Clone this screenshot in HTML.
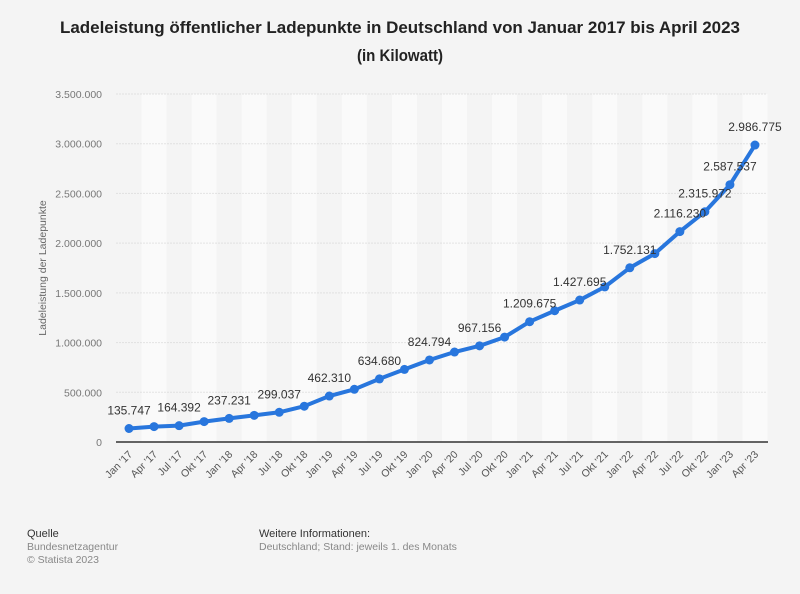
<!DOCTYPE html>
<html><head><meta charset="utf-8"><style>
html,body{margin:0;padding:0;background:#f4f4f4;}
svg{display:block;font-family:"Liberation Sans",Arial,sans-serif;}
</style></head><body>
<svg id="chart" width="800" height="594" viewBox="0 0 800 594">
<rect x="0" y="0" width="800" height="594" fill="#f4f4f4"/>
<text x="400" y="33" text-anchor="middle" font-size="17" font-weight="bold" fill="#222" textLength="680" lengthAdjust="spacingAndGlyphs">Ladeleistung öffentlicher Ladepunkte in Deutschland von Januar 2017 bis April 2023</text>
<text x="400" y="61" text-anchor="middle" font-size="17" font-weight="bold" fill="#222" textLength="86" lengthAdjust="spacingAndGlyphs">(in Kilowatt)</text>
<g id="bands"></g>
<g id="grid"></g>
<g id="yticks"></g>
<g id="xticks"></g>
<line x1="116" y1="442" x2="768" y2="442" stroke="#333" stroke-width="1.5"/>
<text transform="translate(46,268) rotate(-90)" text-anchor="middle" font-size="10.5" fill="#666">Ladeleistung der Ladepunkte</text>
<g id="series"></g>
<g id="labels"></g>
<g>
<text x="27" y="537" font-size="11" fill="#333">Quelle</text>
<text x="27" y="550" font-size="10.5" fill="#888">Bundesnetzagentur</text>
<text x="27" y="563" font-size="10.5" fill="#888">© Statista 2023</text>
</g>
<g>
<text x="259" y="537" font-size="11" fill="#333">Weitere Informationen:</text>
<text x="259" y="550" font-size="10.5" fill="#888">Deutschland; Stand: jeweils 1. des Monats</text>
</g>
</svg>
<script>
const categories = ["Jan '17","Apr '17","Jul '17","Okt '17","Jan '18","Apr '18","Jul '18","Okt '18","Jan '19","Apr '19","Jul '19","Okt '19","Jan '20","Apr '20","Jul '20","Okt '20","Jan '21","Apr '21","Jul '21","Okt '21","Jan '22","Apr '22","Jul '22","Okt '22","Jan '23","Apr '23"];
const values = [135747,155000,164392,205000,237231,268000,299037,360000,462310,530000,634680,730000,824794,905000,967156,1055000,1209675,1320000,1427695,1560000,1752131,1895000,2116230,2315972,2587537,2986775];
const labelled = [true,false,true,false,true,false,true,false,true,false,true,false,true,false,true,false,true,false,true,false,true,false,true,true,true,true];
const yTicks = [0,500000,1000000,1500000,2000000,2500000,3000000,3500000];
const yTickLabels = ["0","500.000","1.000.000","1.500.000","2.000.000","2.500.000","3.000.000","3.500.000"];

const NS="http://www.w3.org/2000/svg";
const X0=116.5, X1=767.5, Y0=442, Y1=94, YMAX=3500000;
const bw=(X1-X0)/categories.length;
const xs=i=>X0+bw*(i+0.5);
const ys=v=>Y0-(v/YMAX)*(Y0-Y1);
function mk(tag,attrs,parent,txt){const e=document.createElementNS(NS,tag);for(const k in attrs)e.setAttribute(k,attrs[k]);if(txt!==undefined)e.textContent=txt;document.getElementById(parent).appendChild(e);return e;}
const fmt=v=>String(v).replace(/\B(?=(\d{3})+(?!\d))/g,".");

categories.forEach((c,i)=>{
  const r=mk('rect',{x:X0+bw*i,y:Y1,width:bw,height:Y0-Y1,fill:i%2?'#fafafa':'#f4f4f4'},'bands');
  
  
  const t=mk('text',{transform:`translate(${xs(i)+4},${Y0+13}) rotate(-45)`,'text-anchor':'end','font-size':'10.5',fill:'#555'},'xticks',c);
  
  
});
yTicks.forEach((v,i)=>{
  if(v>0){const l=mk('line',{x1:X0,x2:X1,y1:ys(v),y2:ys(v),stroke:'#ccc','stroke-dasharray':'1,2'},'grid');
  
  }
  const t=mk('text',{x:102,y:ys(v)+4,'text-anchor':'end','font-size':'10.5',fill:'#777'},'yticks',yTickLabels[i]);
  
  
});
const pts=values.map((v,i)=>xs(i)+','+ys(v)).join(' ');
const pl=mk('polyline',{points:pts,fill:'none',stroke:'#2876dd','stroke-width':'4','stroke-linejoin':'round','stroke-linecap':'round'},'series');


values.forEach((v,i)=>{
  const c=mk('circle',{cx:xs(i),cy:ys(v),r:4.5,fill:'#2876dd'},'series');
  
  
  if(labelled[i]){
    const t=mk('text',{x:xs(i),y:ys(v)-14,'text-anchor':'middle','font-size':'12',fill:'#333'},'labels',fmt(v));
    
    
  }
});
</script>
</body></html>
